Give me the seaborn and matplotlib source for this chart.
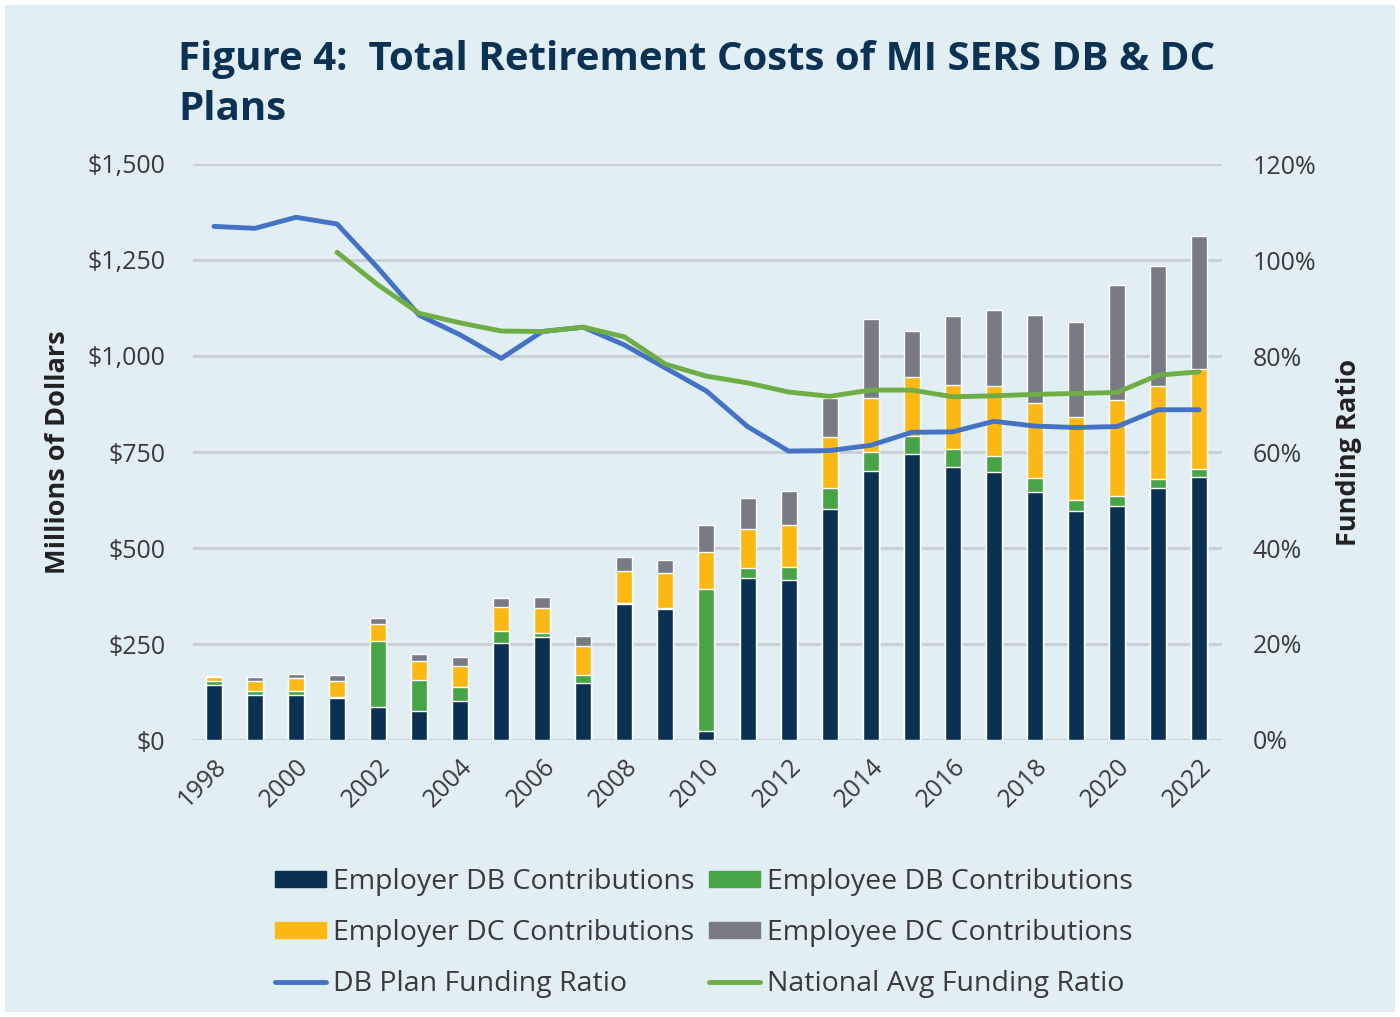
import numpy as np
import pandas as pd
import matplotlib
matplotlib.use("Agg")
import matplotlib.pyplot as plt
import seaborn as sns
from matplotlib.patches import Patch, Rectangle
from matplotlib.lines import Line2D
from matplotlib.ticker import FuncFormatter

years = [str(y) for y in range(1998, 2023)]
employer_db = [143, 117, 117, 110, 85, 76, 102, 252, 269, 148, 354, 342, 23,
               421, 417, 602, 701, 745, 712, 698, 647, 597, 609, 657, 684]
employee_db = [11, 11, 11, 3, 172, 80, 36, 31, 9, 20, 4, 3, 369,
               26, 33, 53, 48, 47, 47, 42, 36, 28, 26, 23, 21]
employer_dc = [11, 25, 33, 41, 45, 51, 56, 64, 67, 77, 82, 91, 97,
               102, 111, 133, 142, 153, 165, 182, 195, 217, 250, 243, 261]
employee_dc = [2, 10, 12, 15, 17, 17, 21, 24, 27, 27, 36, 34, 71,
               80, 87, 103, 206, 120, 179, 199, 228, 247, 299, 312, 346]
db_ratio = [107.0, 106.6, 108.9, 107.5, 98.3, 88.5, 84.4, 79.5, 85.1, 86.0, 82.3, 77.5, 72.7,
            65.3, 60.2, 60.3, 61.4, 64.1, 64.2, 66.4, 65.4, 65.1, 65.3, 68.8, 68.8]
nat_ratio = [np.nan, np.nan, np.nan, 101.6, 94.8, 88.9, 86.9, 85.2, 85.1, 86.0, 84.0, 78.3, 75.8,
             74.4, 72.5, 71.6, 72.9, 72.9, 71.5, 71.7, 72.0, 72.2, 72.4, 76.0, 76.7]

bg = "#E1EEF4"
navy = "#0B3253"
c_emp_db = "#0A3152"
c_ee_db = "#47A447"
c_emp_dc = "#FDB913"
c_ee_dc = "#787B84"
c_blue = "#4472C4"
c_green = "#6FAE45"
txt = "#3A3A3A"

df = pd.DataFrame({"year": years, "employer_db": employer_db, "employee_db": employee_db,
                   "employer_dc": employer_dc, "employee_dc": employee_dc})
df["c1"] = df["employer_db"]
df["c2"] = df["c1"] + df["employee_db"]
df["c3"] = df["c2"] + df["employer_dc"]
df["c4"] = df["c3"] + df["employee_dc"]

sns.set_style("white")
plt.rcParams["font.family"] = ["Open Sans", "DejaVu Sans"]

fig = plt.figure(figsize=(14, 10.17), dpi=100)
fig.patch.set_facecolor("white")
fig.add_artist(Rectangle((5 / 1400, 5 / 1017), 1 - 10 / 1400, 1 - 10 / 1017,
                         transform=fig.transFigure, facecolor=bg, edgecolor="none", zorder=-10))

ax = fig.add_axes([193 / 1400, 1 - 740 / 1017, (1222 - 193) / 1400, (740 - 164) / 1017])
ax.set_facecolor(bg)

# stacked bars: draw cumulative totals from the top down
for col, c in [("c4", c_ee_dc), ("c3", c_emp_dc), ("c2", c_ee_db), ("c1", c_emp_db)]:
    sns.barplot(data=df, x="year", y=col, color=c, saturation=1, width=0.39,
                errorbar=None, ax=ax, zorder=2)

ax.set_ylim(0, 1500)
ax.set_yticks(range(0, 1501, 250))
ax.yaxis.set_major_formatter(FuncFormatter(lambda v, p: f"${v:,.0f}"))
ax.yaxis.grid(True, color="#C8CED3", lw=2)
ax.set_axisbelow(True)
ax.set_xlabel("")
ax.set_ylabel("Millions of Dollars", fontsize=19.5, fontweight="bold", color="#222222", labelpad=12)
idx = np.arange(len(years))
ax.set_xticks(idx[::2])
ax.set_xticklabels(years[::2], rotation=45, ha="right", rotation_mode="anchor")
ax.tick_params(axis="both", length=0, labelsize=18, labelcolor=txt)
ax.tick_params(axis="y", pad=20)
ax.tick_params(axis="x", pad=10)
for s in ax.spines.values():
    s.set_visible(False)

ax2 = ax.twinx()
sns.lineplot(x=idx, y=db_ratio, ax=ax2, color=c_blue, lw=3.5)
sns.lineplot(x=idx, y=nat_ratio, ax=ax2, color=c_green, lw=3.5)
ax2.set_ylim(0, 120)
ax2.set_yticks(range(0, 121, 20))
ax2.yaxis.set_major_formatter(FuncFormatter(lambda v, p: f"{v:.0f}%"))
ax2.tick_params(axis="y", length=0, labelsize=18, labelcolor=txt, pad=22)
ax2.set_ylabel("Funding Ratio", fontsize=19.5, fontweight="bold", color="#222222", labelpad=14)
for s in ax2.spines.values():
    s.set_visible(False)
ax.set_xlim(-0.51, 24.56)

fig.text(178 / 1400, 1 - 40 / 1017, "Figure 4:  Total Retirement Costs of MI SERS DB & DC\nPlans",
         fontsize=29, fontweight="bold", color=navy, va="top", ha="left", linespacing=1.38)

handles = [Patch(color=c_emp_db), Patch(color=c_emp_dc), Line2D([], [], color=c_blue, lw=3.5),
           Patch(color=c_ee_db), Patch(color=c_ee_dc), Line2D([], [], color=c_green, lw=3.5)]
labels = ["Employer DB Contributions", "Employer DC Contributions", "DB Plan Funding Ratio",
          "Employee DB Contributions", "Employee DC Contributions", "National Avg Funding Ratio"]
fig.legend(handles, labels, ncol=2, loc="center", bbox_to_anchor=(0.503, 1 - 933 / 1017),
           frameon=False, fontsize=20.5, labelcolor=txt, handlelength=1.8, handleheight=0.5,
           handletextpad=0.25, columnspacing=0.5, labelspacing=0.8)

fig.savefig("out.png", dpi=100, facecolor=fig.get_facecolor())
